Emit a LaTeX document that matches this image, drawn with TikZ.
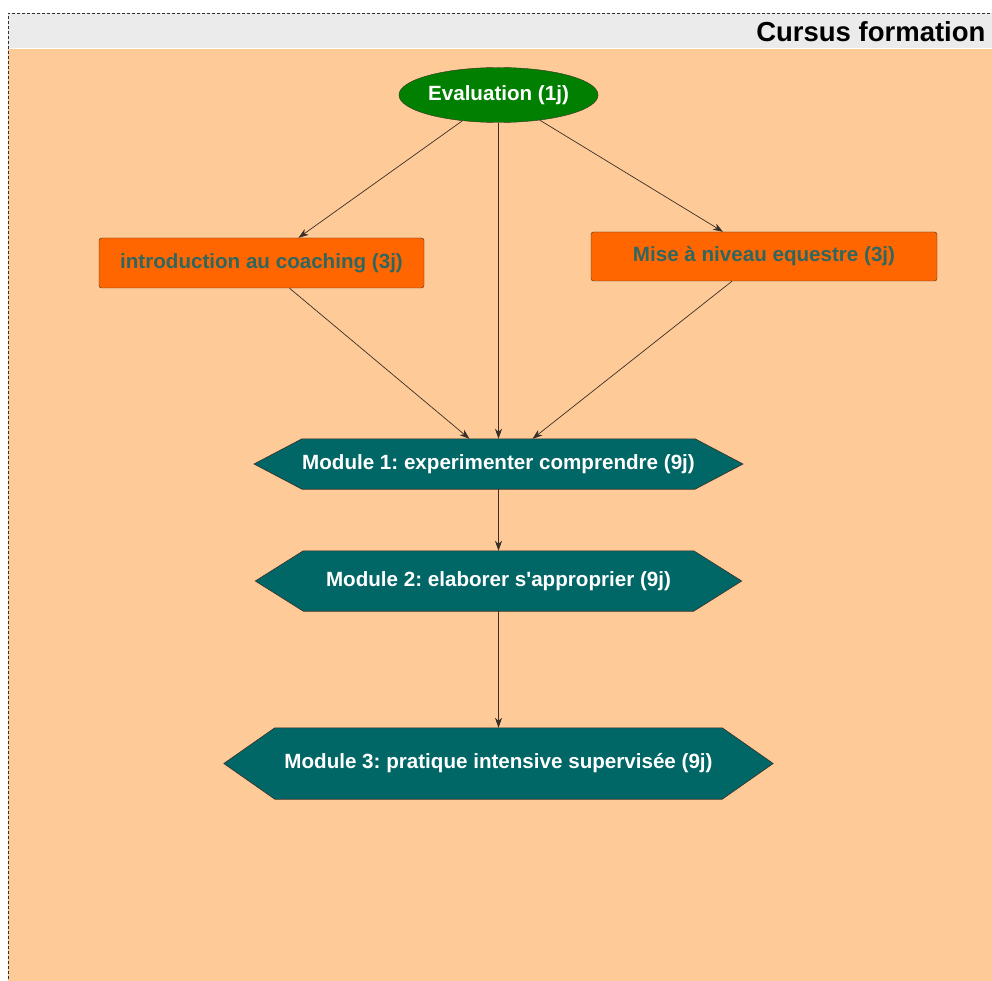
\documentclass[tikz,border=0pt]{standalone}
\usepackage{fontspec}
\setmainfont{Liberation Sans}[Ligatures=TeXOff]
\usetikzlibrary{arrows.meta,shapes.geometric}
\definecolor{bgor}{HTML}{FECB98}
\definecolor{hdr}{HTML}{EBEBEB}
\definecolor{evalg}{HTML}{007F00}
\definecolor{boxor}{HTML}{FF6600}
\definecolor{hexteal}{HTML}{006666}
\definecolor{tealtxt}{HTML}{2F6660}
\definecolor{edgecol}{HTML}{3A2E28}
\pgfdeclarelayer{background}
\pgfsetlayers{background,main}
\frenchspacing
\begin{document}
\begin{tikzpicture}[x=1pt,y=-1pt,
  lbl/.style={font=\fontsize{20.6}{24}\selectfont\bfseries\frenchspacing},
  evalnode/.style={ellipse, draw=edgecol, fill=evalg, text=white, lbl, minimum width=198pt, minimum height=55pt, inner sep=0pt},
  orbox/.style={rectangle, rounded corners=2.5pt, draw=edgecol, fill=boxor, text=tealtxt, lbl, inner sep=0pt},
  hexnode/.style={rectangle, text=white, lbl, inner sep=0pt},
  hexfill/.style={fill=hexteal, draw=edgecol, line width=0.6pt},
  conn/.style={draw=edgecol, line width=0.7pt, -{Stealth[length=10pt,width=7pt,inset=3pt]}}
]
\useasboundingbox (0,0) rectangle (992,981);
\begin{pgfonlayer}{background}
  \fill[bgor] (8,49) rectangle (1000,990);
  \fill[hdr] (8,13) rectangle (1000,48);
  \draw[edgecol, line width=0.6pt, dash pattern=on 3pt off 2pt] (1000,13) -- (8,13) -- (8,990);
\end{pgfonlayer}

\node[anchor=base east, font=\fontsize{27.5}{32}\selectfont\bfseries] (title) at (989,42) {Cursus formation};

\node[evalnode] (eval) at (498.5,95) {Evaluation (1j)};
\node[orbox, minimum width=325pt, minimum height=50pt] (intro) at (261.5,263) {introduction au coaching (3j)};
\node[orbox, minimum width=346pt, minimum height=49pt] (mise) at (764,256.5) {Mise à niveau equestre (3j)};

\node[hexnode, minimum width=390pt, minimum height=50pt] (m1) at (498.5,464) {Module 1: experimenter comprendre (9j)};
\node[hexnode, minimum width=390pt, minimum height=60pt] (m2) at (498.5,581) {Module 2: elaborer s'approprier (9j)};
\node[hexnode, minimum width=447pt, minimum height=71pt] (m3) at (498.5,763.5) {Module 3: pratique intensive supervisée (9j)};

\begin{pgfonlayer}{background}
  \foreach \n/\d in {m1/48pt, m2/48pt, m3/51pt}{
    \draw[hexfill] (\n.north west) -- (\n.north east) -- ([xshift=\d]\n.east) -- (\n.south east) -- (\n.south west) -- ([xshift=-\d]\n.west) -- cycle;
  }
\end{pgfonlayer}

\draw[conn] (eval) -- ([xshift=37pt]intro.north);
\draw[conn] (eval) -- ([xshift=-41pt]mise.north);
\draw[conn] (eval) -- (m1.north);
\draw[conn] ([xshift=28pt]intro.south) -- ([xshift=-29pt]m1.north);
\draw[conn] ([xshift=-32pt]mise.south) -- ([xshift=34pt]m1.north);
\draw[conn] (m1) -- (m2);
\draw[conn] (m2) -- (m3);
\end{tikzpicture}
\end{document}
